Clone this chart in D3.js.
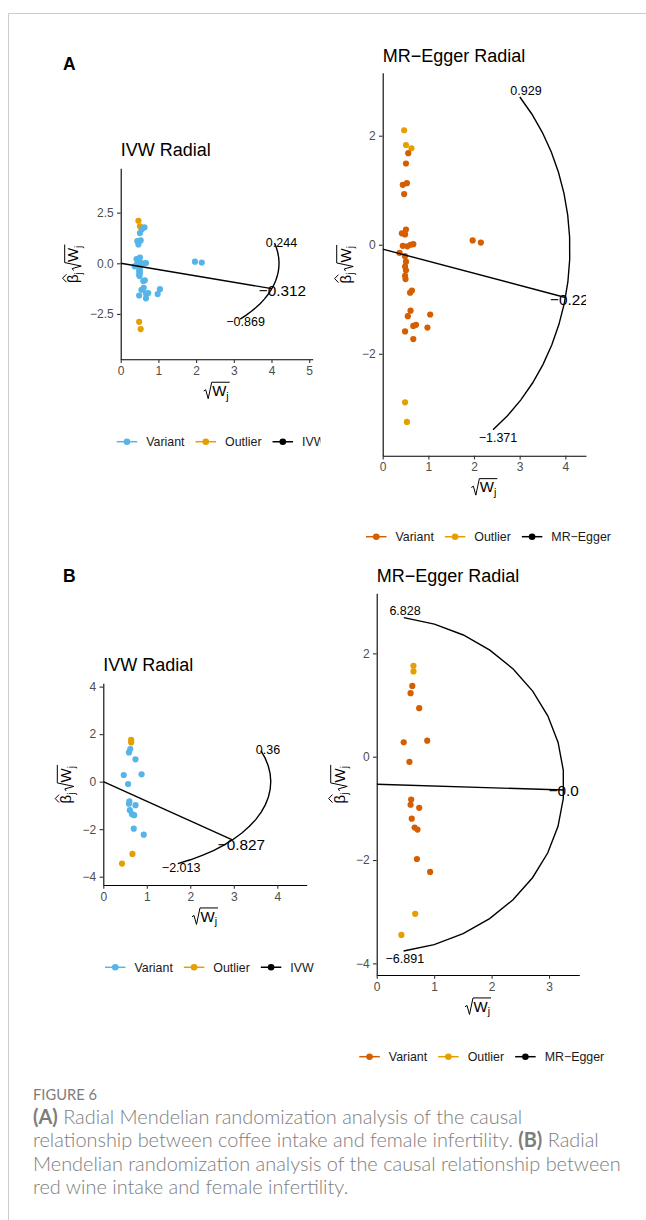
<!DOCTYPE html>
<html><head><meta charset="utf-8">
<script src="https://cdn.jsdelivr.net/npm/d3@7"></script>
<style>body{margin:0;background:#fff;} svg{display:block;}</style>
</head><body>
<svg id="fig" width="646" height="1220"></svg>
<script>
// ---------------- data ----------------
// Panel A (coffee intake): sqrt(Wj) and beta_j*sqrt(Wj) per variant
const snpA_sqrtW = [0.47,0.51,0.63,0.56,0.51,0.44,0.53,0.47,0.42,0.51,0.49,0.44,0.54,0.61,0.67,0.37,0.49,0.51,0.49,0.51,0.49,0.50,0.64,0.60,0.61,0.55,1.04,0.67,0.73,0.49,0.98,0.67,1.97,2.15,0.49,0.53];
const snpA_ratio  = [2.10,1.83,1.77,1.68,1.49,1.10,1.13,0.93,0.21,0.28,0.19,-0.02,-0.03,0.00,0.01,-0.15,-0.21,-0.31,-0.40,-0.47,-0.57,-0.63,-0.84,-0.88,-1.21,-1.31,-1.28,-1.49,-1.47,-1.59,-1.52,-1.73,0.08,0.04,-2.89,-3.25];
const snpA_outlierIVW   = [1,1,0,0,0,0,0,0,0,0,0,0,0,0,0,0,0,0,0,0,0,0,0,0,0,0,0,0,0,0,0,0,0,0,1,1];
const snpA_outlierEgger = [1,1,1,0,0,0,0,0,0,0,0,0,0,0,0,0,0,0,0,0,0,0,0,0,0,0,0,0,0,0,0,0,0,0,1,1];
// Panel B (red wine intake)
const snpB_sqrtW = [0.64,0.64,0.62,0.59,0.74,0.47,0.88,0.57,0.60,0.59,0.74,0.61,0.66,0.71,0.70,0.93,0.67,0.43];
const snpB_ratio  = [1.76,1.65,1.37,1.23,0.94,0.28,0.31,-0.10,-0.83,-0.93,-0.99,-1.20,-1.37,-1.41,-1.98,-2.23,-3.04,-3.45];
const snpB_outlier = [1,1,0,0,0,0,0,0,0,0,0,0,0,0,0,0,1,1];

// Per plot: A-IVW, A-Egger, B-IVW, B-Egger
const methodNames = ["IVW","MR−Egger","IVW","MR−Egger"];
const estimate   = [-0.312, -0.222, -0.827, -0.034];
const ciLower    = [-0.869, -1.371, -2.013, -6.891];
const ciUpper    = [0.244, 0.929, 0.36, 6.828];
const interceptV = [0, -0.08, 0, -0.534];
const circleR    = [4.2, 4.1, 3.85, 3.26];
const xTicks = [[0,1,2,3,4,5],[0,1,2,3,4],[0,1,2,3,4],[0,1,2,3]];
const yTicks = [[-2.5,0,2.5],[-2,0,2],[-4,-2,0,2,4],[-4,-2,0,2]];
const xDomains = [[0,5.093],[0,4.453],[0,4.676],[0,3.527]];
const yDomains = [[-4.74,4.69],[-3.87,3.156],[-4.35,4.14],[-4.225,3.163]];

// ---------------- layout / style ----------------
const FONT = "'Liberation Sans', Arial, Helvetica, sans-serif";
const CAPFONT = "Lato, 'Open Sans', sans-serif";
const layout = [
  {x0:120.7,x1:312.7,y0:168.3,y1:359.3,titleY:156,legendX:116.7,legendY:441.7,clipRight:320.5,fmt:".1f",labF:1.07},
  {x0:382.7,x1:586,  y0:72.7, y1:455.7,titleY:61.7,legendX:366, legendY:536.7,clipRight:646,fmt:"d",labF:1.045},
  {x0:103.3,x1:306.7,y0:683.3,y1:885, titleY:671, legendX:105, legendY:967.3,clipRight:320.5,fmt:"d",labF:1.07},
  {x0:376.7,x1:579.3,y0:593.3,y1:975, titleY:581.7,legendX:359.3,legendY:1056.7,clipRight:646,fmt:"d",labF:1.045}
];
const colVariant = ["#56B4E9","#D55E00","#56B4E9","#D55E00"];
const colOutlier = "#E69F00";
const titles = ["IVW Radial","MR−Egger Radial","IVW Radial","MR−Egger Radial"];

const svg = d3.select("#fig");
svg.append("line").attr("x1",8.5).attr("y1",13.5).attr("x2",646).attr("y2",13.5).attr("stroke","#cccccc").attr("stroke-width",1);
svg.append("line").attr("x1",8.5).attr("y1",13.5).attr("x2",8.5).attr("y2",1220).attr("stroke","#cccccc").attr("stroke-width",1);

svg.append("text").attr("x",63).attr("y",70).attr("font-family",FONT).attr("font-weight","bold").attr("font-size",17.5).text("A");
svg.append("text").attr("x",63).attr("y",582).attr("font-family",FONT).attr("font-weight","bold").attr("font-size",17.5).text("B");

const fmtLab = v => String(v).replace("-", "−");

function mathLabel(parent, withBeta) {
  const F = 15, fs = 10.5;
  const g = parent.append("g");
  let x = 0;
  const txt = (s, size, dy) => {
    const t = g.append("text").attr("x", x).attr("y", dy).attr("font-size", size)
      .attr("font-family", FONT).attr("fill", "#000").text(s);
    return t.node().getComputedTextLength();
  };
  if (withBeta) {
    const bw = txt("β", F, 0);
    const cx = x + bw/2 + 0.5;
    g.append("path").attr("d", `M${cx-4},${-F*0.8} L${cx},${-F*1.06} L${cx+4},${-F*0.8}`)
      .attr("fill","none").attr("stroke","#000").attr("stroke-width",1);
    x += bw;
    x += txt("j", fs, 3.5);
    x += 1.5;
  }
  const r0 = x, top = -F*0.92;
  x += 8.5;
  x += txt("W", F, 0);
  x += txt("j", fs, 3.5);
  x += 1;
  g.append("path").attr("d", `M${r0},${-F*0.33} L${r0+2},${-F*0.42} L${r0+4.5},${F*0.18} L${r0+8},${top} L${x},${top}`)
    .attr("fill","none").attr("stroke","#000").attr("stroke-width",1);
  return g;
}
function place(g, cx, cy, rot) {
  const b = g.node().getBBox();
  g.attr("transform", `translate(${cx},${cy}) rotate(${rot}) translate(${-b.x-b.width/2},${-b.y-b.height/2})`);
}

const dataSets = [
  {xs:snpA_sqrtW, ys:snpA_ratio, out:snpA_outlierIVW},
  {xs:snpA_sqrtW, ys:snpA_ratio, out:snpA_outlierEgger},
  {xs:snpB_sqrtW, ys:snpB_ratio, out:snpB_outlier},
  {xs:snpB_sqrtW, ys:snpB_ratio, out:snpB_outlier}
];

layout.forEach((L, i) => {
  const root = svg.append("g");
  const cid = "clipR" + i;
  svg.append("clipPath").attr("id", cid).append("rect").attr("x",0).attr("y",0).attr("width",L.clipRight).attr("height",1220);
  root.attr("clip-path", `url(#${cid})`);

  const x = d3.scaleLinear().domain(xDomains[i]).range([L.x0, L.x1]);
  const y = d3.scaleLinear().domain(yDomains[i]).range([L.y1, L.y0]);

  root.append("text").attr("x", L.x0).attr("y", L.titleY).attr("font-family", FONT).attr("font-size", 18)
    .attr("fill","#000").text(titles[i]);

  const pid = "clipP" + i;
  svg.append("clipPath").attr("id", pid).append("rect").attr("x",L.x0).attr("y",L.y0).attr("width",L.x1-L.x0).attr("height",L.y1-L.y0);
  const pg = root.append("g").attr("clip-path", `url(#${pid})`);

  const D = dataSets[i];
  const idx = d3.range(D.xs.length);
  pg.selectAll("circle.pt").data(idx).join("circle").attr("class","pt")
    .attr("cx", k => x(D.xs[k])).attr("cy", k => y(D.ys[k])).attr("r", 3.1)
    .attr("fill", k => D.out[k] ? colOutlier : colVariant[i]);

  const R = circleR[i], b0 = interceptV[i];
  const th0 = Math.atan(ciLower[i]), th1 = Math.atan(ciUpper[i]), thE = Math.atan(estimate[i]);
  const arcPts = d3.range(18).map(k => { const t = th0 + (th1 - th0) * k / 17; return [R*Math.cos(t), b0 + R*Math.sin(t)]; });
  const line = d3.line().x(d => x(d[0])).y(d => y(d[1]));
  pg.append("path").attr("d", line([[0,b0],[R*Math.cos(thE), b0 + R*Math.sin(thE)]]))
    .attr("fill","none").attr("stroke","#000").attr("stroke-width",1.4);
  pg.append("path").attr("d", line(arcPts)).attr("fill","none").attr("stroke","#000").attr("stroke-width",1.4);

  const lab = (t, rf, s, size) => pg.append("text")
    .attr("x", x(rf*R*Math.cos(t))).attr("y", y(b0 + rf*R*Math.sin(t))).attr("dy","0.36em")
    .attr("text-anchor","middle").attr("font-family",FONT).attr("font-size",size).attr("fill","#000").text(s);
  lab(th1, 1.045, fmtLab(ciUpper[i]), 12.5);
  lab(th0, 1.045, fmtLab(ciLower[i]), 12.5);
  lab(thE, L.labF, fmtLab(estimate[i]), 15.3);

  const ax = root.append("g").attr("transform", `translate(0,${L.y1})`)
    .call(d3.axisBottom(x).tickValues(xTicks[i]).tickFormat(d3.format("d")).tickSize(3.7).tickSizeOuter(0).tickPadding(3.3));
  const ay = root.append("g").attr("transform", `translate(${L.x0},0)`)
    .call(d3.axisLeft(y).tickValues(yTicks[i]).tickFormat(d3.format(L.fmt)).tickSize(3.7).tickSizeOuter(0).tickPadding(3.3));
  [ax, ay].forEach(a => {
    a.select(".domain").attr("stroke","#000").attr("stroke-width",1.1);
    a.selectAll(".tick line").attr("stroke","#333").attr("stroke-width",1.1);
    a.selectAll(".tick text").attr("fill","#4d4d4d").attr("font-size",12).attr("font-family",FONT);
  });

  const xt = mathLabel(root, false);
  place(xt, (L.x0 + L.x1)/2, L.y1 + 32.5, 0);
  const tickLeft = L.x0 + ay.node().getBBox().x;
  const yt = mathLabel(root, true);
  const yb = yt.node().getBBox();
  place(yt, tickLeft - 6 - yb.height/2, (L.y0 + L.y1)/2, -90);

  const labels = ["Variant","Outlier",methodNames[i]];
  const cols = [colVariant[i], colOutlier, "#000"];
  let lx = L.legendX;
  labels.forEach((s, k) => {
    root.append("line").attr("x1", lx).attr("x2", lx + 20.5).attr("y1", L.legendY).attr("y2", L.legendY)
      .attr("stroke", cols[k]).attr("stroke-width", 1.5);
    root.append("circle").attr("cx", lx + 10.25).attr("cy", L.legendY).attr("r", 3.3).attr("fill", cols[k]);
    lx += 29.5;
    const t = root.append("text").attr("x", lx).attr("y", L.legendY).attr("dy","0.36em")
      .attr("font-family", FONT).attr("font-size", 12.4).attr("fill","#1a1a1a").text(s);
    lx += t.node().getComputedTextLength() + 11;
  });
});

// caption
const capColor = "#7d7d7d";
const fig = svg.append("text").attr("x", 33).attr("y", 1100).attr("font-family", CAPFONT)
  .attr("font-size", 15).attr("fill", capColor).text("FIGURE 6");
const fw = fig.node().getComputedTextLength();
fig.attr("font-size", 15 * 64 / fw);

const capLines = [
  [["(A)",true],[" Radial Mendelian randomization analysis of the causal",false]],
  [["relationship between coffee intake and female infertility. ",false],["(B)",true],[" Radial",false]],
  [["Mendelian randomization analysis of the causal relationship between",false]],
  [["red wine intake and female infertility.",false]]
];
const capBase = [1124, 1147.4, 1170.8, 1194.2];
const probe = svg.append("text").attr("font-family", CAPFONT).attr("font-weight", 300).attr("font-size", 17).text(capLines[2][0][0]);
const capSize = 17 * 588 / probe.node().getComputedTextLength();
probe.remove();
capLines.forEach((ln, li) => {
  const t = svg.append("text").attr("x", 33).attr("y", capBase[li]).attr("font-family", CAPFONT)
    .attr("font-size", capSize).attr("fill", capColor).style("white-space","pre");
  ln.forEach(([s, b]) => t.append("tspan").attr("font-weight", b ? 700 : 300).text(s));
});
</script>
</body></html>
